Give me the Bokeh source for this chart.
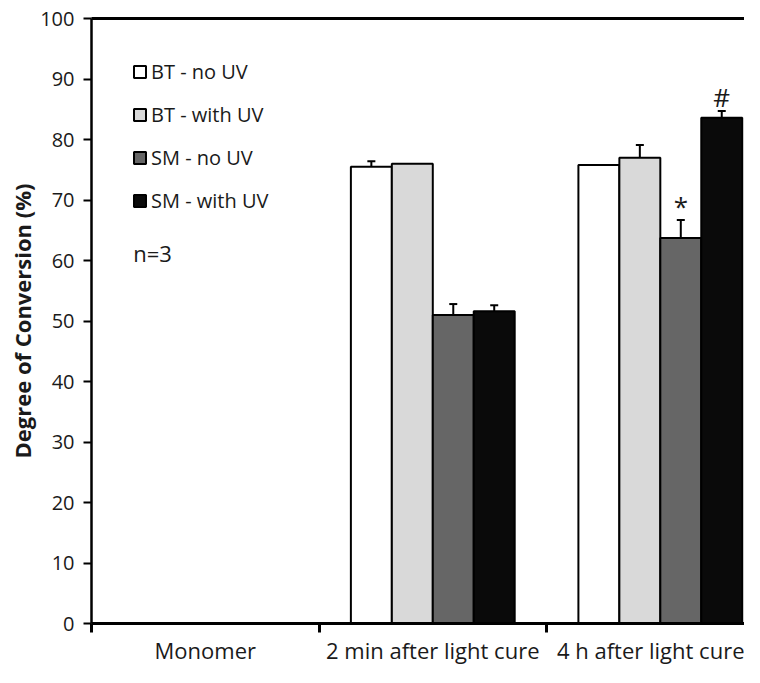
from bokeh.plotting import figure
from bokeh.models import (Range1d, FixedTicker, Whisker, TeeHead, ColumnDataSource,
                          Legend, LegendItem, Label, LinearAxis)
from bokeh.core.properties import value
from bokeh.embed import file_html
from bokeh.resources import INLINE

# ---- data ----
categories = ["Monomer", "2 min after light cure", "4 h after light cure"]
series = ["BT - no UV", "BT - with UV", "SM - no UV", "SM - with UV"]
# None = not measured / no bar
bt_no_uv = [None, 75.5, 75.8]
bt_with_uv = [None, 76.0, 77.0]
sm_no_uv = [None, 51.0, 63.7]
sm_with_uv = [None, 51.6, 83.6]
bt_no_uv_err = [None, 0.9, 0.0]
bt_with_uv_err = [None, 0.0, 2.1]
sm_no_uv_err = [None, 1.8, 3.0]
sm_with_uv_err = [None, 1.0, 1.1]
sig_series = ["SM - no UV", "SM - with UV"]
sig_symbols = ["*", "#"]
sig_category = "4 h after light cure"
n_label = "n=3"
y_ticks = [0, 10, 20, 30, 40, 50, 60, 70, 80, 90, 100]

values = [bt_no_uv, bt_with_uv, sm_no_uv, sm_with_uv]
errors = [bt_no_uv_err, bt_with_uv_err, sm_no_uv_err, sm_with_uv_err]
fills = ["#ffffff", "#d9d9d9", "#666666", "#0a0a0a"]
offsets = [-0.27, -0.09, 0.09, 0.27]
bar_w = 0.18

FONT = "Open Sans"
TXT = "#1a1a1a"

p = figure(width=744, height=667, output_backend="svg", toolbar_location=None,
           x_range=Range1d(0, 2.87), y_range=Range1d(0, 100),
           min_border_left=91, min_border_right=0, min_border_top=18, min_border_bottom=39)
p.xgrid.visible = False
p.ygrid.visible = False
p.outline_line_color = None
p.background_fill_color = "white"

renderers = []
tops = {}
for i, s in enumerate(series):
    xs, ys, es = [], [], []
    for j, c in enumerate(categories):
        v = values[i][j]
        if v is None:
            continue
        xs.append(j + 0.5 + offsets[i])
        ys.append(v)
        es.append(errors[i][j])
        tops[(s, c)] = (j + 0.5 + offsets[i], v + errors[i][j])
    src = ColumnDataSource(dict(x=xs, top=ys))
    r = p.vbar(x="x", top="top", bottom=0, width=bar_w, source=src,
               fill_color=fills[i], line_color="black", line_width=2)
    renderers.append(r)
    ex = [x for x, e in zip(xs, es) if e > 0]
    el = [y for y, e in zip(ys, es) if e > 0]
    eu = [y + e for y, e in zip(ys, es) if e > 0]
    esrc = ColumnDataSource(dict(x=ex, lower=el, upper=eu))
    w = Whisker(base="x", lower="lower", upper="upper", source=esrc,
                line_color="black", line_width=2,
                upper_head=TeeHead(size=8, line_color="black", line_width=2),
                lower_head=None)
    p.add_layout(w)

# significance marks
mx, my, mt = [], [], []
for s, sym in zip(sig_series, sig_symbols):
    x, y = tops[(s, sig_category)]
    mx.append(x)
    my.append(y)
    mt.append(sym)
p.text(x=mx, y=my, text=mt, text_align="center", text_baseline="bottom",
       text_font=value(FONT), text_font_size="26px", text_color=TXT, y_offset=4)

# axes
xa = p.xaxis[0]
xa.ticker = FixedTicker(ticks=[0.5, 1.5, 2.5], minor_ticks=[0, 1, 2])
xa.major_label_overrides = {0.5: categories[0], 1.5: categories[1], 2.5: categories[2]}
xa.major_tick_line_color = None
xa.major_tick_out = 0
xa.major_tick_in = 0
xa.minor_tick_out = 9
xa.minor_tick_in = 0
xa.minor_tick_line_width = 3
xa.minor_tick_line_color = "black"
xa.axis_line_width = 3
xa.axis_line_color = "black"
xa.major_label_standoff = 2
xa.major_label_text_font = FONT
xa.major_label_text_font_size = "22px"
xa.major_label_text_color = TXT

ya = p.yaxis[0]
ya.ticker = FixedTicker(ticks=y_ticks)
ya.minor_tick_line_color = None
ya.major_tick_out = 8
ya.major_tick_in = 0
ya.major_tick_line_width = 2
ya.axis_line_width = 2.5
ya.major_label_standoff = 9
ya.major_label_text_font = FONT
ya.major_label_text_font_size = "20px"
ya.major_label_text_color = TXT
ya.axis_label = "Degree of Conversion (%)"
ya.axis_label_text_font = FONT
ya.axis_label_text_font_style = "bold"
ya.axis_label_text_font_size = "22px"
ya.axis_label_text_color = TXT
ya.axis_label_standoff = 0

top_axis = LinearAxis(ticker=FixedTicker(ticks=[]), major_label_text_font_size="0px",
                      major_tick_line_color=None, minor_tick_line_color=None,
                      major_label_standoff=0, axis_line_width=3, axis_line_color="black")
p.add_layout(top_axis, "above")

legend = Legend(items=[LegendItem(label=s, renderers=[r]) for s, r in zip(series, renderers)],
                location=(41, 409), orientation="vertical",
                glyph_width=15, glyph_height=15, label_height=20, spacing=16,
                label_standoff=4, padding=0, margin=0,
                border_line_color=None, background_fill_alpha=0,
                label_text_font=FONT, label_text_font_size="20px", label_text_color=TXT)
p.add_layout(legend)

p.add_layout(Label(x=0.183, y=61.3, text=n_label, text_font=FONT, text_font_size="22px",
                   text_color=TXT, text_baseline="middle"))

open("out.html", "w").write(file_html(p, INLINE))
